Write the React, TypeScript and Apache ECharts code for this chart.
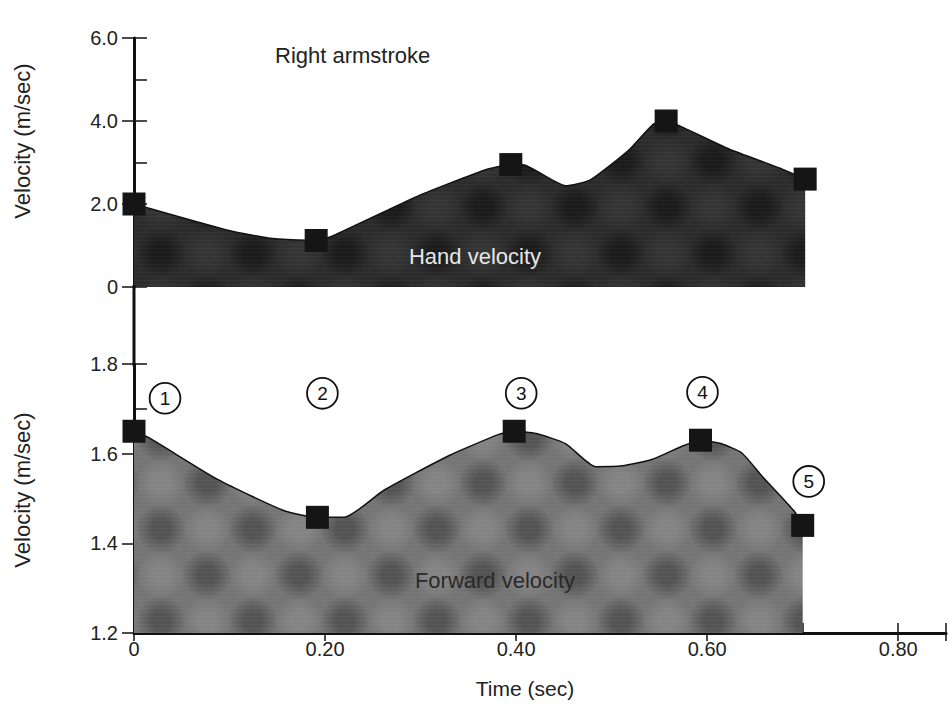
import React, { useEffect, useRef } from "react";
import * as echarts from "echarts";

// ---- Data ----
// Top panel: hand velocity outline (time in s, velocity in m/s)
const handTime = [0, 0.099, 0.14, 0.171, 0.19, 0.206, 0.296, 0.366, 0.393, 0.407, 0.45, 0.476, 0.517, 0.542, 0.555, 0.573, 0.621, 0.673, 0.7];
const handVel = [2.0, 1.36, 1.18, 1.13, 1.12, 1.22, 2.19, 2.82, 2.95, 2.94, 2.44, 2.58, 3.32, 3.93, 4.0, 3.84, 3.32, 2.87, 2.6];
// Top panel: marked points
const handMarkTime = [0, 0.19, 0.393, 0.555, 0.7];
const handMarkVel = [2.0, 1.12, 2.95, 4.0, 2.6];

// Bottom panel: forward velocity outline
const fwdTime = [0, 0.016, 0.088, 0.158, 0.192, 0.22, 0.262, 0.33, 0.382, 0.398, 0.421, 0.452, 0.483, 0.511, 0.542, 0.573, 0.593, 0.615, 0.636, 0.657, 0.691, 0.7];
const fwdVel = [1.65, 1.635, 1.542, 1.472, 1.458, 1.458, 1.519, 1.596, 1.643, 1.65, 1.645, 1.622, 1.571, 1.573, 1.587, 1.616, 1.63, 1.622, 1.602, 1.551, 1.472, 1.44];
// Bottom panel: marked phases
const fwdMarkTime = [0, 0.192, 0.398, 0.593, 0.7];
const fwdMarkVel = [1.65, 1.458, 1.65, 1.63, 1.44];
const phaseLabels = ["1", "2", "3", "4", "5"];

// Axis ticks / labels
const topYMin = 0, topYMax = 6, topYMajor = 2, topYMinor = 1;
const botYMin = 1.2, botYMax = 1.8, botYMajor = 0.2, botYMinor = 0.1;
const xMin = 0, xMax = 0.85, xMajor = 0.2, xMinor = 0.1;

// ---- Styling ----
const FONT = "'Liberation Sans', Arial, Helvetica, sans-serif";
const phaseOffsets: [number, number][] = [[31, -33], [5, -124], [7, -38], [2, -48], [6, -44]];

function makePattern(base: string, dark: string, darkT: string, light: string, lightT: string) {
  const size = 92;
  const c = document.createElement("canvas");
  c.width = size;
  c.height = size;
  const ctx = c.getContext("2d")!;
  ctx.fillStyle = base;
  ctx.fillRect(0, 0, size, size);
  const blobs: [number, number, string, string][] = [
    [23, 23, dark, darkT], [69, 69, dark, darkT], [69, 23, light, lightT], [23, 69, light, lightT],
  ];
  for (const [bx, by, col, colT] of blobs) {
    for (const dx of [-size, 0, size]) {
      for (const dy of [-size, 0, size]) {
        const g = ctx.createRadialGradient(bx + dx, by + dy, 0, bx + dx, by + dy, 25);
        g.addColorStop(0, col);
        g.addColorStop(0.35, col);
        g.addColorStop(1, colT);
        ctx.fillStyle = g;
        ctx.fillRect(bx + dx - 25, by + dy - 25, 50, 50);
      }
    }
  }
  ctx.fillStyle = "rgba(255,255,255,0.035)";
  for (let y = 0; y < size; y += 4) ctx.fillRect(0, y, size, 1);
  return { image: c, repeat: "repeat" } as any;
}

export default function App() {
  const ref = useRef<HTMLDivElement>(null);
  useEffect(() => {
    if (!ref.current) return;
    const chart = echarts.init(ref.current, undefined, { renderer: "svg" });
    const topFill = makePattern("#2c2c2c", "rgba(20,20,20,0.7)", "rgba(20,20,20,0)", "rgba(60,60,60,0.55)", "rgba(60,60,60,0)");
    const botFill = makePattern("#757575", "rgba(70,70,70,0.7)", "rgba(70,70,70,0)", "rgba(145,145,145,0.55)", "rgba(145,145,145,0)");

    const tickLabel = { fontFamily: FONT, fontSize: 20, color: "#222" };
    const left = 134;
    const gridW = 963.75 * (xMax - xMin);
    const right = 949 - left - gridW;
    const tickStyle = { color: "#111", width: 1.5 };

    const option: any = {
      animation: false,
      backgroundColor: "#fff",
      grid: [
        { left, right, top: 38, bottom: 728 - 287, containLabel: false },
        { left, right, top: 364, bottom: 728 - 633, containLabel: false },
      ],
      xAxis: [
        { gridIndex: 0, type: "value", min: xMin, max: xMax, show: false },
        {
          gridIndex: 1, type: "value", position: "bottom", min: xMin, max: xMax, interval: xMajor,
          axisLine: { show: true, onZero: false, lineStyle: { color: "#111", width: 3 } },
          axisTick: { show: true, inside: false, length: 8, lineStyle: tickStyle },
          splitLine: { show: false },
          axisLabel: {
            ...tickLabel, margin: 6,
            formatter: (v: number) => {
              const k = Math.round(v / xMajor);
              if (Math.abs(v - k * xMajor) > 1e-6 || v > 0.81) return "";
              return v === 0 ? "0" : v.toFixed(2);
            },
          },
        },
        {
          gridIndex: 1, type: "value", position: "bottom", offset: 0, min: xMin, max: xMax, interval: xMinor,
          axisLine: { show: false, onZero: false },
          axisTick: { show: true, inside: true, length: 10, lineStyle: tickStyle },
          axisLabel: { show: false },
          splitLine: { show: false },
        },
      ],
      yAxis: [
        {
          gridIndex: 0, type: "value", position: "left", min: topYMin, max: topYMax, interval: topYMajor,
          axisLine: { show: true, onZero: false, lineStyle: { color: "#111", width: 3 } },
          axisTick: { show: true, inside: false, length: 12, lineStyle: tickStyle },
          splitLine: { show: false },
          axisLabel: { ...tickLabel, margin: 16, formatter: (v: number) => (v === 0 ? "0" : v.toFixed(1)) },
        },
        {
          gridIndex: 0, type: "value", position: "left", offset: 0, min: topYMin, max: topYMax, interval: topYMinor,
          axisLine: { show: false, onZero: false }, axisLabel: { show: false }, splitLine: { show: false },
          axisTick: { show: true, inside: true, length: 13, lineStyle: tickStyle },
        },
        {
          gridIndex: 1, type: "value", position: "left", min: botYMin, max: botYMax, interval: botYMajor,
          axisLine: { show: true, onZero: false, lineStyle: { color: "#111", width: 3 } },
          axisTick: { show: true, inside: false, length: 12, lineStyle: tickStyle },
          splitLine: { show: false },
          axisLabel: { ...tickLabel, margin: 16, formatter: (v: number) => v.toFixed(1) },
        },
        {
          gridIndex: 1, type: "value", position: "left", offset: 0, min: botYMin, max: botYMax, interval: botYMinor,
          axisLine: { show: false, onZero: false }, axisLabel: { show: false }, splitLine: { show: false },
          axisTick: { show: true, inside: true, length: 13, lineStyle: tickStyle },
        },
      ],
      series: [
        {
          name: "Hand velocity", type: "line", xAxisIndex: 0, yAxisIndex: 0,
          data: handTime.map((t, i) => [t, handVel[i]]),
          smooth: 0.18, showSymbol: false, symbol: "none",
          lineStyle: { color: "#111", width: 1.5 },
          areaStyle: { color: topFill, opacity: 1 },
          z: 2,
        },
        {
          name: "Hand markers", type: "scatter", xAxisIndex: 0, yAxisIndex: 0,
          data: handMarkTime.map((t, i) => [t, handMarkVel[i]]),
          symbol: "rect", symbolSize: 23, itemStyle: { color: "#151515", opacity: 1 }, z: 5,
        },
        {
          name: "Forward velocity", type: "line", xAxisIndex: 1, yAxisIndex: 2,
          data: fwdTime.map((t, i) => [t, fwdVel[i]]),
          smooth: 0.18, showSymbol: false, symbol: "none",
          lineStyle: { color: "#111", width: 1.5 },
          areaStyle: { color: botFill, opacity: 1 },
          z: 2,
        },
        {
          name: "Phases", type: "scatter", xAxisIndex: 1, yAxisIndex: 2,
          data: fwdMarkTime.map((t, i) => ({
            value: [t, fwdMarkVel[i]],
            label: { offset: phaseOffsets[i] },
          })),
          symbol: "rect", symbolSize: 23, itemStyle: { color: "#151515", opacity: 1 }, z: 5,
          label: {
            show: true, position: "inside",
            formatter: (p: any) => `{c|${phaseLabels[p.dataIndex]}}`,
            rich: {
              c: {
                width: 29, height: 29, lineHeight: 29, borderRadius: 15,
                borderColor: "#111", borderWidth: 1.8, align: "center",
                fontFamily: FONT, fontSize: 19, color: "#111", backgroundColor: "#fff",
              },
            },
          },
        },
      ],
      graphic: [
        { type: "line", z: 10, shape: { x1: left, y1: 285, x2: left, y2: 366 }, style: { stroke: "#111", lineWidth: 3 } },
        { type: "text", z: 10, x: 275, y: 55, style: { text: "Right armstroke", fontFamily: FONT, fontSize: 22, fill: "#222", verticalAlign: "middle" } },
        { type: "text", z: 10, x: 475, y: 256, style: { text: "Hand velocity", fontFamily: FONT, fontSize: 22, fill: "#e6e6e6", align: "center", verticalAlign: "middle" } },
        { type: "text", z: 10, x: 495, y: 580, style: { text: "Forward velocity", fontFamily: FONT, fontSize: 22, fill: "#2a2a2a", align: "center", verticalAlign: "middle" } },
        { type: "text", z: 10, x: 525, y: 688, style: { text: "Time (sec)", fontFamily: FONT, fontSize: 21, fill: "#222", align: "center", verticalAlign: "middle" } },
        { type: "text", z: 10, x: 22, y: 141, rotation: Math.PI / 2, style: { text: "Velocity (m/sec)", fontFamily: FONT, fontSize: 22, fill: "#222", align: "center", verticalAlign: "middle" } },
        { type: "text", z: 10, x: 22, y: 490, rotation: Math.PI / 2, style: { text: "Velocity (m/sec)", fontFamily: FONT, fontSize: 22, fill: "#222", align: "center", verticalAlign: "middle" } },
      ],
    };
    chart.setOption(option);
    return () => chart.dispose();
  }, []);
  return (
    <div
      ref={ref}
      style={{ position: "fixed", left: 0, top: 0, width: 949, height: 728, background: "#fff" }}
    />
  );
}
